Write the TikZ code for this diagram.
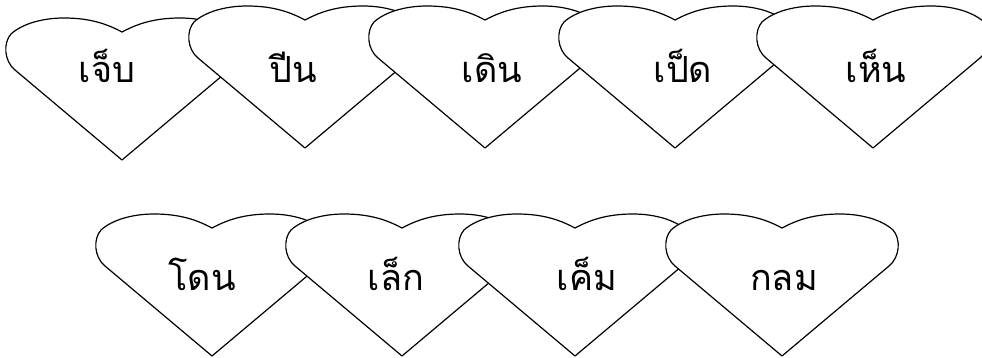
\documentclass[tikz,border=0pt]{standalone}
\usepackage{fontspec}
\newfontfamily\thaifont[Script=Thai]{Loma}
\usetikzlibrary{positioning}

\tikzset{
  heartline/.style={draw=black, fill=white, line width=1.2pt, line join=round},
  word/.style={font=\thaifont\fontsize{36}{40}\selectfont, anchor=base, inner sep=0pt},
  heart/.pic={
    \path[heartline] (0,0) .. controls (15,-8) and (32,-14) .. (58,-14)
      .. controls (80,-14) and (100,-8) .. (111,2)
      .. controls (119,11) and (118,29) .. (107,38) -- (0,128)
      -- (-107,38) .. controls (-118,29) and (-119,11) .. (-111,2)
      .. controls (-100,-8) and (-80,-14) .. (-58,-14)
      .. controls (-32,-14) and (-15,-8) .. (0,0) -- cycle;
  }
}

\begin{document}
\begin{tikzpicture}[x=1pt, y=-1pt]
  \useasboundingbox (0,0) rectangle (982,358);
  % top row
  \foreach \i/\hx/\hy/\tx/\label in {
    1/122/32/107/เจ็บ,
    2/305/20/293/ปีน,
    3/485/20/492/เดิน,
    4/675/20/683/เป็ด,
    5/873/20/876/เห็น}{
    \pic at (\hx,\hy) {heart};
    \node[word] (top\i) at (\tx,83) {\label};
  }
  % bottom row
  \foreach \i/\hx/\tx/\label in {
    1/212/202/โดน,
    2/402/396/เล็ก,
    3/575/587/เค็ม,
    4/782/784/กลม}{
    \pic at (\hx,228) {heart};
    \node[word] (bot\i) at (\tx,290) {\label};
  }
\end{tikzpicture}
\end{document}
